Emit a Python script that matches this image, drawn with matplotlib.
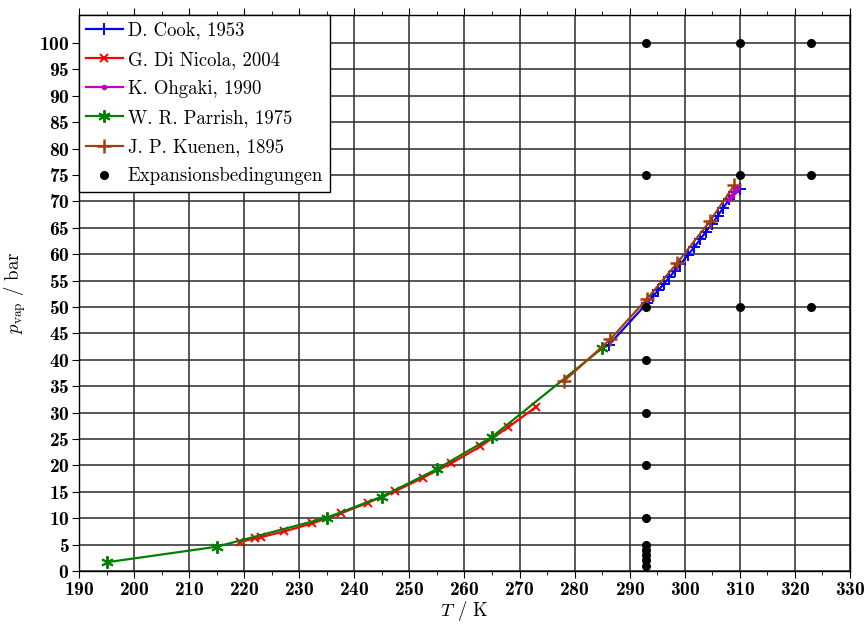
import numpy as np
import matplotlib.pyplot as plt
from matplotlib.ticker import MultipleLocator

plt.rcParams['font.family'] = ['cmr10', 'DejaVu Serif']
plt.rcParams['mathtext.fontset'] = 'cm'
plt.rcParams['axes.formatter.use_mathtext'] = True

# Dampfdruckdaten N2O (T in K, p in bar)
T_cook = [286.2, 293.2, 294.2, 295.2, 296.2, 297.2, 298.2, 299.2, 300.5, 301.7,
          302.8, 303.8, 304.9, 306.0, 307.0, 308.1, 309.0, 310.0]
p_cook = [42.8, 50.8, 52.0, 53.2, 54.4, 55.6, 56.9, 58.1, 59.8, 61.3,
          62.8, 64.2, 65.7, 67.3, 68.8, 70.4, 71.8, 72.4]

T_nicola = [219.2, 222.0, 223.0, 227.3, 232.3, 237.5, 242.4, 247.4, 252.5,
            257.6, 262.9, 267.9, 273.0]
p_nicola = [5.5, 6.2, 6.4, 7.5, 9.0, 10.9, 12.9, 15.1, 17.7,
            20.4, 23.6, 27.2, 31.1]

T_ohgaki = [308.0, 308.5, 309.0, 309.3, 309.5]
p_ohgaki = [70.4, 71.1, 71.8, 72.2, 72.5]

T_parrish = [195.0, 215.0, 235.0, 245.0, 255.0, 265.0, 285.0]
p_parrish = [1.65, 4.6, 10.1, 14.1, 19.3, 25.4, 42.2]

T_kuenen = [278.0, 286.5, 293.1, 298.6, 304.6, 309.0]
p_kuenen = [35.9, 43.9, 51.5, 58.3, 66.3, 73.1]

# Expansionsbedingungen
T_exp = [293] * 12 + [310] * 3 + [323] * 3
p_exp = [100, 75, 50, 40, 30, 20, 10, 5, 4, 3, 2, 1] + [100, 75, 50] + [100, 75, 50]

fig = plt.figure(figsize=(8.67, 6.24), dpi=100)
ax = fig.add_axes([0.0911, 0.0849, 0.8893, 0.8911])

lw = 1.6
ax.plot(T_cook, p_cook, color='#0000ff', lw=lw, marker='+', ms=8, mew=1.4,
        label='D. Cook, 1953', zorder=4)
ax.plot(T_nicola, p_nicola, color='#ff0000', lw=lw, marker='x', ms=6, mew=1.4,
        label='G. Di Nicola, 2004', zorder=3)
ax.plot(T_ohgaki, p_ohgaki, color='#bf00bf', lw=lw, marker='o', ms=3,
        label='K. Ohgaki, 1990', zorder=5)
ax.plot(T_parrish, p_parrish, color='#008000', lw=lw, marker=(6, 2, 0), ms=9, mew=1.4,
        label='W. R. Parrish, 1975', zorder=3)
ax.plot(T_kuenen, p_kuenen, color='#a33f0b', lw=lw, marker='+', ms=10, mew=1.8,
        label='J. P. Kuenen, 1895', zorder=4)
ax.plot(T_exp, p_exp, ls='none', color='black', marker='o', ms=5.5,
        label='Expansionsbedingungen', zorder=6)

ax.set_xlim(190, 330)
ax.set_ylim(0, 105.3)
ax.xaxis.set_major_locator(MultipleLocator(10))
ax.xaxis.set_minor_locator(MultipleLocator(5))
ax.set_yticks(np.arange(0, 101, 5))
ax.grid(True, which='major', color='#2a2a2a', lw=1.1)
ax.set_axisbelow(True)
ax.tick_params(which='both', direction='out', top=True, labelsize=14, pad=2)
ax.tick_params(which='major', length=5)
ax.tick_params(which='minor', length=3)
for lab in ax.get_xticklabels() + ax.get_yticklabels():
    lab.set_family('cmb10')
for sp in ax.spines.values():
    sp.set_linewidth(1.0)

ax.set_xlabel(r'$T$ / K', fontsize=13.5, labelpad=0)
ax.set_ylabel(r'$p_\mathrm{vap}$ / bar', fontsize=13.5, labelpad=8)

leg = ax.legend(loc='upper left', borderaxespad=0, fancybox=False, framealpha=1,
                edgecolor='black', fontsize=13.5, handlelength=2.0, handletextpad=0.25,
                borderpad=0.35, labelspacing=0.6)
leg.get_frame().set_linewidth(1.0)

fig.savefig('out.png', dpi=100)
